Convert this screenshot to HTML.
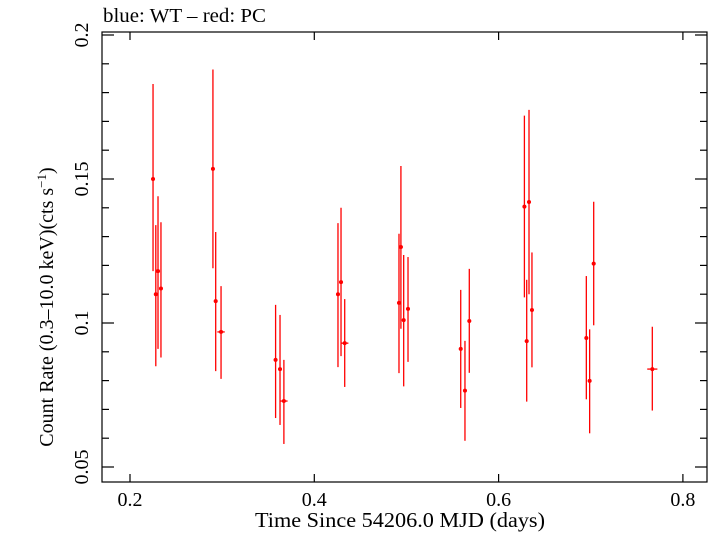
<!DOCTYPE html>
<html><head><meta charset="utf-8"><style>
body{margin:0;background:#fff;}
svg text{font-family:"Liberation Serif",serif;fill:#000;}
</style></head><body>
<svg width="709" height="532" viewBox="0 0 709 532">
<text x="103" y="22" font-size="20" textLength="163" lengthAdjust="spacingAndGlyphs">blue: WT – red: PC</text>
<rect x="102" y="32" width="605" height="450" fill="none" stroke="#000" stroke-width="1.2"/>
<g id="axes"></g>
<g id="marks"></g>
<text x="400" y="527" font-size="21" text-anchor="middle" textLength="290" lengthAdjust="spacingAndGlyphs">Time Since 54206.0 MJD (days)</text>
<text transform="translate(53,307) rotate(-90)" font-size="20" text-anchor="middle">Count Rate (0.3–10.0 keV)(cts s<tspan dy="-7" font-size="13">−1</tspan><tspan dy="7">)</tspan></text>
</svg>
<script>
const times=[.225,.228,.2304,.2336,.290,.293,.2988,.358,.3628,.367,.4257,.429,.433,.4919,.494,.497,.5017,.5589,.5635,.5682,.628,.6305,.633,.6362,.6952,.6988,.7032,.7668];
const timeErr=[.002,.002,.002,.002,.002,.002,.004,.002,.002,.004,.002,.002,.004,.002,.002,.002,.002,.002,.002,.002,.002,.002,.002,.002,.002,.002,.002,.0055];
const rates=[.150,.110,.118,.112,.1535,.1076,.0969,.0872,.084,.0729,.110,.1142,.093,.107,.1264,.101,.1049,.091,.0765,.1007,.1404,.0937,.142,.1045,.0948,.0799,.1206,.084];
const rateHi=[.183,.134,.144,.135,.188,.1316,.1128,.1063,.1028,.0872,.1347,.140,.1083,.131,.1545,.1236,.1229,.1115,.0938,.1188,.172,.115,.174,.1245,.1163,.0978,.1421,.0987];
const rateLo=[.118,.085,.091,.088,.119,.0833,.0806,.067,.0646,.058,.0847,.0885,.0778,.0826,.098,.078,.0865,.0705,.0591,.0827,.1089,.0727,.110,.0846,.0735,.0617,.0992,.0696];
const xTicks=[0.2,0.4,0.6,0.8];
const xTickLabels=["0.2","0.4","0.6","0.8"];
const yTicks=[0.05,0.1,0.15,0.2];
const yTickLabels=["0.05","0.1","0.15","0.2"];
const NS="http://www.w3.org/2000/svg";
function X(v){return 130+(v-0.2)*921.5;}
function Y(v){return 323-(v-0.1)*2880;}
function mk(t,a,p){const e=document.createElementNS(NS,t);for(const k in a)e.setAttribute(k,a[k]);p.appendChild(e);return e;}
const ax=document.getElementById('axes'),mg=document.getElementById('marks');
xTicks.forEach((v,i)=>{
 const g=mk('g',{},ax);
 
 
 mk('line',{x1:X(v),x2:X(v),y1:482,y2:474,stroke:'#000','stroke-width':1.2},g);
 mk('line',{x1:X(v),x2:X(v),y1:32,y2:40,stroke:'#000','stroke-width':1.2},g);
 const t=mk('text',{x:X(v),y:506,'font-size':20,'text-anchor':'middle'},g);t.textContent=xTickLabels[i];
});
for(let k=5;k<=20;k++){const v=k/100;
 const major=(k%5===0);
 const l=major?12:7;
 const g=mk('g',{},ax);
 
 
 mk('line',{x1:102,x2:102+l,y1:Y(v),y2:Y(v),stroke:'#000','stroke-width':1.2},g);
 mk('line',{x1:707,x2:707-l,y1:Y(v),y2:Y(v),stroke:'#000','stroke-width':1.2},g);
}
yTicks.forEach((v,i)=>{
 const t=mk('text',{transform:`translate(88,${Y(v)}) rotate(-90)`,'font-size':20,'text-anchor':'middle'},ax);
 
 
 t.textContent=yTickLabels[i];
});
times.forEach((t,i)=>{
 const g=mk('g',{},mg);
 
 
 mk('line',{x1:X(t),x2:X(t),y1:Y(rateHi[i]),y2:Y(rateLo[i]),stroke:'#f00','stroke-width':1.3},g);
 mk('line',{x1:X(t-timeErr[i]),x2:X(t+timeErr[i]),y1:Y(rates[i]),y2:Y(rates[i]),stroke:'#f00','stroke-width':1.3},g);
 mk('circle',{cx:X(t),cy:Y(rates[i]),r:2,fill:'#f00'},g);
});
</script>
</body></html>
